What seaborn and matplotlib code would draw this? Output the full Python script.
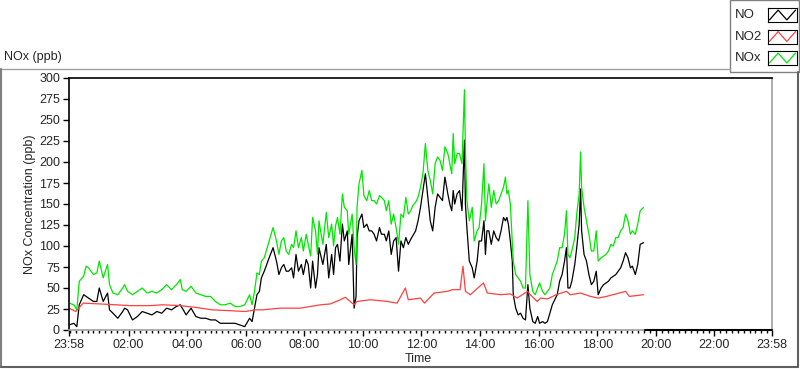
import seaborn as sns
import matplotlib.pyplot as plt
from matplotlib.lines import Line2D
from matplotlib.patches import Rectangle

# --- data (minutes after 23:58) ---
t_min = [0, 10, 16, 21, 30, 35, 40, 50, 57, 62, 70, 79, 83, 90, 100, 110, 114, 120, 130, 140,
         150, 160, 170, 180, 190, 200, 210, 220, 228, 232, 240, 250, 260, 270, 280, 290, 300, 310,
         320, 330, 340, 350, 360, 370, 375, 380, 385, 390, 394, 400, 410, 418, 425, 430, 435, 440,
         445, 450, 456, 460, 465, 470, 476, 480, 486, 490, 495, 499, 505, 509, 512, 520, 527, 532,
         538, 542, 546, 550, 555, 560, 564, 570, 573, 580, 584, 588, 590, 594, 600, 604, 610, 615,
         620, 625, 630, 636, 640, 646, 650, 655, 660, 665, 670, 675, 680, 685, 690, 695, 700, 704,
         710, 715, 720, 725, 730, 735, 740, 745, 750, 755, 760, 765, 770, 776, 780, 784, 787, 790,
         795, 800, 805, 810, 812, 815, 820, 826, 830, 836, 840, 845, 850, 853, 856, 860, 865, 870,
         875, 880, 885, 890, 894, 897, 900, 904, 908, 910, 915, 920, 925, 930, 935, 940, 944, 950,
         955, 960, 964, 970, 975, 980, 985, 990, 1000, 1005, 1010, 1015, 1019, 1022, 1026, 1030,
         1036, 1040, 1045, 1048, 1050, 1055, 1060, 1065, 1070, 1075, 1080, 1084, 1090, 1095, 1100,
         1105, 1110, 1115, 1120, 1125, 1130, 1135, 1140, 1145, 1150, 1154, 1160, 1165, 1170, 1177]

no_ppb = [6, 8, 4, 30, 42, 40, 38, 34, 34, 50, 34, 44, 24, 20, 14, 22, 26, 24, 12, 16,
          22, 20, 18, 22, 20, 26, 24, 28, 30, 26, 18, 26, 16, 14, 14, 12, 12, 8,
          8, 8, 8, 6, 4, 14, 10, 26, 42, 46, 62, 70, 86, 98, 82, 66, 74, 78,
          70, 70, 74, 62, 90, 70, 78, 66, 84, 78, 50, 82, 50, 66, 98, 78, 102, 62,
          90, 66, 98, 102, 82, 126, 106, 118, 78, 114, 26, 40, 110, 130, 138, 122, 126, 118,
          118, 114, 106, 122, 114, 114, 106, 118, 90, 106, 110, 70, 106, 98, 110, 102, 108, 112,
          118, 130, 146, 166, 186, 158, 130, 118, 146, 162, 158, 154, 182, 162, 150, 142, 166, 150,
          162, 166, 142, 226, 150, 122, 82, 74, 62, 82, 106, 106, 130, 90, 118, 118, 102, 118,
          110, 106, 118, 134, 130, 134, 126, 106, 82, 42, 26, 18, 20, 14, 12, 54, 26, 10,
          8, 16, 8, 10, 8, 10, 20, 30, 42, 58, 66, 82, 98, 50, 50, 58,
          78, 98, 126, 168, 118, 90, 82, 66, 54, 58, 70, 42, 50, 54, 56,
          58, 62, 64, 66, 70, 74, 82, 92, 86, 74, 76, 66, 78, 102, 104]

nox_ppb = [32, 30, 24, 58, 64, 76, 74, 66, 68, 82, 62, 78, 54, 44, 42, 50, 54, 46, 42, 46,
           50, 44, 46, 44, 48, 54, 48, 54, 60, 48, 46, 52, 44, 42, 40, 40, 34, 30,
           30, 32, 28, 28, 30, 42, 30, 46, 68, 66, 82, 86, 106, 122, 106, 90, 106, 110,
           94, 90, 102, 98, 118, 98, 110, 94, 114, 102, 88, 134, 118, 90, 130, 102, 140, 110,
           126, 100, 124, 134, 114, 162, 146, 142, 114, 138, 98, 78, 146, 174, 190, 160, 154, 166,
           154, 154, 150, 160, 158, 154, 142, 154, 126, 138, 122, 102, 138, 134, 158, 138, 142, 148,
           152, 158, 170, 186, 222, 190, 178, 162, 198, 206, 202, 190, 218, 210, 198, 186, 234, 198,
           210, 210, 198, 286, 214, 154, 130, 146, 106, 118, 122, 150, 198, 130, 150, 174, 146, 166,
           150, 154, 162, 170, 182, 162, 166, 150, 106, 82, 66, 62, 58, 50, 50, 154, 66, 46,
           42, 50, 56, 46, 42, 46, 50, 66, 82, 98, 98, 114, 142, 90, 86, 94,
           110, 138, 162, 212, 170, 146, 130, 114, 94, 94, 118, 82, 86, 88, 90,
           94, 102, 100, 110, 110, 118, 122, 138, 130, 114, 118, 114, 126, 142, 146]

no2_min = [0, 14, 29, 64, 96, 125, 166, 191, 228, 258, 293, 330, 361, 381, 396, 433, 474, 515,
           535, 556, 566, 576, 584, 590, 617, 652, 672, 689, 695, 720, 728, 748, 775, 785, 801,
           807, 812, 822, 849, 857, 884, 904, 918, 939, 945, 959, 966, 980, 998, 1019, 1027,
           1048, 1068, 1084, 1101, 1140, 1148, 1177]
no2_ppb = [26, 22, 32, 31, 30, 29, 29, 30, 29, 27, 24, 23, 22, 24, 24, 26, 26, 30,
           31, 36, 39, 34, 30, 34, 36, 34, 32, 50, 36, 38, 32, 44, 46, 48, 48,
           76, 46, 42, 56, 44, 42, 43, 38, 46, 42, 34, 38, 37, 42, 46, 42,
           44, 40, 38, 40, 46, 40, 42]

# NO trace sits on zero after logging stopped
tail_min = [1179, 1440]
tail_ppb = [0, 0]

tick_min = [0, 122, 242, 362, 482, 602, 722, 842, 962, 1082, 1202, 1322, 1440]
tick_lab = ['23:58', '02:00', '04:00', '06:00', '08:00', '10:00', '12:00', '14:00',
            '16:00', '18:00', '20:00', '22:00', '23:58']
minor_min = list(range(2, 1440, 12))

series = [('NO', 'black'), ('NO2', '#ff4040'), ('NOx', '#00e600')]

sns.set_style('white')
plt.rcParams['font.family'] = ['Liberation Sans', 'DejaVu Sans']
plt.rcParams['font.size'] = 9

W, H = 800, 369
fig = plt.figure(figsize=(W / 100, H / 100), dpi=100)

def fx(x):
    return x / W

def fy(y):
    return 1 - y / H

ax = fig.add_axes([fx(69), fy(330), fx(772) - fx(69), fy(78) - fy(330)])

sns.lineplot(x=t_min, y=no_ppb, ax=ax, color='black', lw=0.9, estimator=None, sort=False)
sns.lineplot(x=no2_min, y=no2_ppb, ax=ax, color='#ff4040', lw=0.9, estimator=None, sort=False)
sns.lineplot(x=t_min, y=nox_ppb, ax=ax, color='#00e600', lw=0.9, estimator=None, sort=False)
ax.plot(tail_min, tail_ppb, color='black', lw=1.5, clip_on=False, zorder=4)

ax.set_xlim(0, 1440)
ax.set_ylim(0, 300)
ax.set_yticks(range(0, 301, 25))
ax.set_xticks(tick_min)
ax.set_xticklabels(tick_lab)
ax.set_xticks(minor_min, minor=True)

ax.tick_params(axis='both', which='major', direction='out', length=4, width=1,
               color='black', labelsize=9, pad=2.5)
ax.tick_params(axis='x', which='minor', direction='out', length=2.5, width=1, color='black')
ax.tick_params(axis='x', which='both', bottom=True)
ax.tick_params(axis='y', which='both', left=True)

for side in ['left', 'top']:
    ax.spines[side].set_color('black')
    ax.spines[side].set_linewidth(1.2)
for side in ['right', 'bottom']:
    ax.spines[side].set_color('#a0a0a0')
    ax.spines[side].set_linewidth(1.2)

ax.set_ylabel('NOx Concentration (ppb)', fontsize=9)
ax.yaxis.set_label_coords(-0.047, 0.5)
ax.set_xlabel('Time', fontsize=9)
ax.xaxis.set_label_coords(0.497, -0.09)

# panel frame and title
fig.add_artist(Line2D([fx(0), fx(730)], [fy(68.5), fy(68.5)], color='#a0a0a0', lw=1))
fig.add_artist(Line2D([fx(1), fx(1)], [fy(68.5), fy(367)], color='#808080', lw=1.5))
fig.add_artist(Line2D([fx(1), fx(798)], [fy(367), fy(367)], color='#606060', lw=1.5))
fig.add_artist(Line2D([fx(798), fx(798)], [fy(72), fy(367)], color='#606060', lw=1.5))
fig.text(fx(4), fy(57), 'NOx (ppb)', ha='left', va='center', fontsize=9)

# legend box, drawn like the LabVIEW plot legend
fig.add_artist(Rectangle((fx(730), fy(72)), fx(799) - fx(730), fy(0) - fy(72),
                         fill=False, edgecolor='#808080', lw=1))
for i, (name, col) in enumerate(series):
    yc = 15 + 21.5 * i
    fig.text(fx(735), fy(yc), name, ha='left', va='center', fontsize=9.5)
    sw = fig.add_axes([fx(768), fy(yc + 7), fx(797) - fx(768), fy(yc - 7) - fy(yc + 7)])
    sw.plot([0.05, 0.35, 0.65, 0.95], [0.15, 0.85, 0.15, 0.85], color=col, lw=0.9)
    sw.set_xlim(0, 1)
    sw.set_ylim(0, 1)
    sw.set_xticks([])
    sw.set_yticks([])
    for s in sw.spines.values():
        s.set_color('black')
        s.set_linewidth(0.8)

fig.savefig('out.png', dpi=100)
